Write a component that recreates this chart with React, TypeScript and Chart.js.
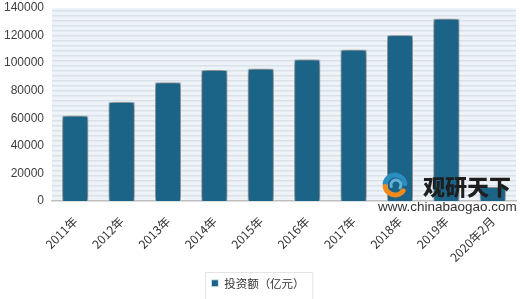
import React, { useEffect, useRef } from "react";
import { Chart, registerables } from "chart.js";

Chart.register(...registerables);

const categories = ["2011年", "2012年", "2013年", "2014年", "2015年", "2016年", "2017年", "2018年", "2019年", "2020年2月"];
const investment = [61796, 71804, 86013, 95036, 95979, 102581, 109799, 120264, 132194, 10115];
const seriesName = "投资额（亿元）";
const yMax = 140000;
const yStep = 20000;

const FONT = "'Noto Sans CJK SC', 'Noto Sans', sans-serif";
const NUM_FONT = "'Liberation Sans', Arial, sans-serif";

const backgroundPlugin = {
  id: "stripedBg",
  beforeDraw(chart: any) {
    const { ctx, chartArea } = chart;
    if (!chartArea) return;
    const c = document.createElement("canvas");
    c.width = 4;
    c.height = 5;
    const p = c.getContext("2d")!;
    p.fillStyle = "#eef3f7";
    p.fillRect(0, 0, 4, 5);
    p.fillStyle = "#d9e2ea";
    p.fillRect(0, 0, 4, 1.5);
    const pat = ctx.createPattern(c, "repeat");
    ctx.save();
    ctx.fillStyle = pat;
    ctx.fillRect(chartArea.left, chartArea.top, chartArea.right - chartArea.left, chartArea.bottom - chartArea.top);
    ctx.restore();
  },
  beforeDatasetsDraw(chart: any) {
    const ctx = chart.ctx;
    ctx.save();
    ctx.shadowColor = "rgba(0,0,0,0.85)";
    ctx.shadowBlur = 6;
    ctx.shadowOffsetX = 0;
    ctx.shadowOffsetY = 0;
  },
  afterDatasetsDraw(chart: any) {
    chart.ctx.restore();
  },
  afterDraw(chart: any) {
    const ctx = chart.ctx;
    const lg = chart.legend;
    if (lg && lg.legendHitBoxes && lg.legendHitBoxes.length) {
      const hb = lg.legendHitBoxes[0];
      ctx.save();
      ctx.strokeStyle = "#e4e4e4";
      ctx.lineWidth = 1;
      ctx.strokeRect(Math.round(hb.left) - 5.5, Math.round(hb.top) - 5.5, hb.width + 14, hb.height + 20);
      ctx.restore();
    }
    // watermark
    ctx.save();
    const lx = 395, ly = 185;
    ctx.lineCap = "round";
    ctx.strokeStyle = "#2a8fc0";
    ctx.lineWidth = 5;
    ctx.beginPath();
    ctx.arc(lx, ly, 10, Math.PI * 1.05, Math.PI * 1.95);
    ctx.stroke();
    ctx.strokeStyle = "#5fb3d9";
    ctx.lineWidth = 3;
    ctx.beginPath();
    ctx.arc(lx + 1, ly, 5, Math.PI * 0.9, Math.PI * 2.2);
    ctx.stroke();
    ctx.strokeStyle = "#f08a1c";
    ctx.lineWidth = 5;
    ctx.beginPath();
    ctx.arc(lx, ly, 10, Math.PI * 0.2, Math.PI * 0.95);
    ctx.stroke();
    ctx.fillStyle = "#1e1e1e";
    ctx.font = "900 22px 'Noto Sans CJK SC', sans-serif";
    ctx.textBaseline = "middle";
    ctx.textAlign = "left";
    ctx.fillText("观研天下", 423, 187);
    ctx.fillStyle = "#333333";
    ctx.font = "13.5px 'Liberation Sans', Arial, sans-serif";
    ctx.fillText("www.chinabaogao.com", 378, 207);
    ctx.restore();
  },
};

export default function App() {
  const ref = useRef<HTMLCanvasElement | null>(null);

  useEffect(() => {
    document.body.style.margin = "0";
    const chart = new Chart(ref.current!, {
      type: "bar",
      data: {
        labels: categories,
        datasets: [
          {
            label: seriesName,
            data: investment,
            backgroundColor: "#1b6487",
            borderColor: "rgba(220,235,245,0.9)",
            borderWidth: 1,
            barPercentage: 0.56,
            categoryPercentage: 1,
          },
        ],
      },
      options: {
        animation: false,
        responsive: false,
        layout: { padding: { top: 8, right: 4, left: 0, bottom: 0 } },
        plugins: {
          legend: {
            position: "bottom",
            labels: {
              boxWidth: 7,
              boxHeight: 7,
              padding: 5,
              color: "#333333",
              font: { family: FONT, size: 11.5 },
            },
          },
          tooltip: { enabled: false },
        },
        scales: {
          x: {
            grid: { display: false },
            border: { display: true, color: "#bfbfbf", width: 1.5 },
            ticks: {
              autoSkip: false,
              maxRotation: 45,
              minRotation: 45,
              padding: 5,
              color: "#333333",
              font: { family: FONT, size: 12 },
            },
            afterFit(scale: any) {
              const lh = scale.chart.legend ? scale.chart.legend.height : 25;
              scale.height = 299 - 201 - lh;
              scale.paddingTop = 0;
              scale.paddingRight = 0;
            },
          },
          y: {
            min: 0,
            max: yMax,
            grid: { display: false, drawTicks: false },
            border: { display: false },
            ticks: {
              stepSize: yStep,
              padding: 8,
              color: "#404040",
              font: { family: NUM_FONT, size: 12 },
              callback: (v: any) => String(v),
            },
            afterFit(scale: any) {
              scale.width = 52;
              scale.paddingTop = 0;
              scale.paddingBottom = 0;
            },
          },
        },
      },
      plugins: [backgroundPlugin],
    });
    return () => chart.destroy();
  }, []);

  return (
    <div style={{ width: 520, height: 299, background: "#ffffff" }}>
      <canvas ref={ref} width={520} height={299} style={{ display: "block" }} />
    </div>
  );
}
